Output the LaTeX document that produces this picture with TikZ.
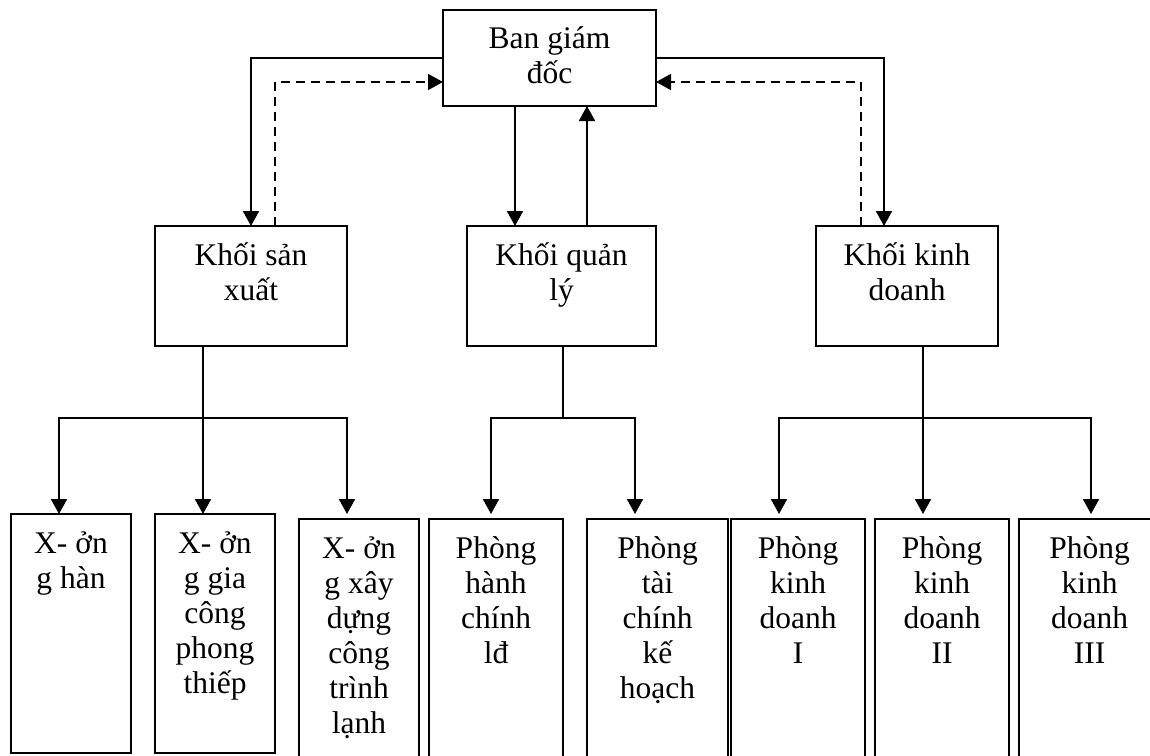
\documentclass[tikz,border=0pt]{standalone}
\usepackage{fontspec}
\setmainfont{Liberation Serif}
\usetikzlibrary{arrows.meta}
\tikzset{
  box/.style={draw, line width=1.8pt, rectangle, inner sep=0pt, outer sep=0pt},
  txt/.style={anchor=base, inner sep=0pt, outer sep=0pt},
  conn/.style={line width=1.8pt},
  arr/.style={conn, -{Triangle[length=15pt,width=16pt]}},
  darr/.style={line width=1.5pt, dash pattern=on 9pt off 6pt, -{Triangle[length=15pt,width=16pt]}}
}
\newcommand{\lines}[1]{\fontsize{31.5}{35}\selectfont\begin{tabular}[t]{@{}c@{}}#1\end{tabular}}
\begin{document}
\begin{tikzpicture}[x=1pt,y=-1pt]
\useasboundingbox (0,0) rectangle (1150,755);
\clip (0,0) rectangle (1150,755);
% boxes
\node[box, minimum width=213pt, minimum height=96pt] (top) at (549.5,58) {};
\node[box, minimum width=192pt, minimum height=120pt] (ksx) at (251,286) {};
\node[box, minimum width=189pt, minimum height=120pt] (kql) at (561.5,286) {};
\node[box, minimum width=182pt, minimum height=120pt] (kkd) at (907,286) {};
\node[box, minimum width=120pt, minimum height=239pt] (b1) at (71,633.5) {};
\node[box, minimum width=120pt, minimum height=239pt] (b2) at (215,633.5) {};
\node[box, minimum width=120pt, minimum height=256pt] (b3) at (359,647) {};
\node[box, minimum width=134pt, minimum height=256pt] (b4) at (496,647) {};
\node[box, minimum width=141pt, minimum height=256pt] (b5) at (657.5,647) {};
\node[box, minimum width=134pt, minimum height=256pt] (b6) at (798,647) {};
\node[box, minimum width=134pt, minimum height=256pt] (b7) at (942,647) {};
\node[box, minimum width=141pt, minimum height=256pt] (b8) at (1089.5,647) {};
% texts
\node[txt] (ttop) at ([yshift=-38pt]top.north) {\lines{Ban giám\\đốc}};
\node[txt] (tksx) at ([yshift=-39pt]ksx.north) {\lines{Khối sản\\xuất}};
\node[txt] (tkql) at ([yshift=-39pt]kql.north) {\lines{Khối quản\\lý}};
\node[txt] (tkkd) at ([yshift=-39pt]kkd.north) {\lines{Khối kinh\\doanh}};
\node[txt] (tb1) at ([yshift=-39pt]b1.north) {\lines{X- ởn\\g hàn}};
\node[txt] (tb2) at ([yshift=-39pt]b2.north) {\lines{X- ởn\\g gia\\công\\phong\\thiếp}};
\node[txt] (tb3) at ([yshift=-39pt]b3.north) {\lines{X- ởn\\g xây\\dựng\\công\\trình\\lạnh}};
\node[txt] (tb4) at ([yshift=-39pt]b4.north) {\lines{Phòng\\hành\\chính\\lđ}};
\node[txt] (tb5) at ([yshift=-39pt]b5.north) {\lines{Phòng\\tài\\chính\\kế\\hoạch}};
\node[txt] (tb6) at ([yshift=-39pt]b6.north) {\lines{Phòng\\kinh\\doanh\\I}};
\node[txt] (tb7) at ([yshift=-39pt]b7.north) {\lines{Phòng\\kinh\\doanh\\II}};
\node[txt] (tb8) at ([yshift=-39pt]b8.north) {\lines{Phòng\\kinh\\doanh\\III}};
% top connectors
\draw[arr] (top.west) -| (ksx.north);
\draw[darr] ([xshift=24pt]ksx.north) |- ([yshift=-24pt]top.west);
\draw[arr] ([xshift=-34.5pt]top.south) -- ([xshift=-34.5pt]top.south |- kql.north);
\draw[arr] ([xshift=37.5pt]top.south |- kql.north) -- ([xshift=37.5pt]top.south);
\draw[arr] (top.east) -| ([xshift=-23pt]kkd.north);
\draw[darr] ([xshift=-46pt]kkd.north) |- ([yshift=-24pt]top.east);
% lower connectors
\coordinate (js) at (203,418);
\coordinate (jq) at (563,418);
\coordinate (jk) at (923,418);
\draw[conn] ([xshift=-48pt]ksx.south) -- (js);
\draw[arr] (js) -| ([xshift=-12pt]b1.north);
\draw[arr] (js) -- ([xshift=-12pt]b2.north);
\draw[arr, shorten >=5pt] (js) -| ([xshift=-12pt]b3.north);
\draw[conn] ([xshift=1.5pt]kql.south) -- (jq);
\draw[arr, shorten >=5pt] (jq) -| ([xshift=-5pt]b4.north);
\draw[arr, shorten >=5pt] (jq) -| ([xshift=-22.5pt]b5.north);
\draw[conn] ([xshift=16pt]kkd.south) -- (jk);
\draw[arr, shorten >=5pt] (jk) -| ([xshift=-19pt]b6.north);
\draw[arr, shorten >=5pt] (jk) -| ([xshift=-19pt]b7.north);
\draw[arr, shorten >=5pt] (jk) -| ([xshift=1.5pt]b8.north);
\end{tikzpicture}
\end{document}
